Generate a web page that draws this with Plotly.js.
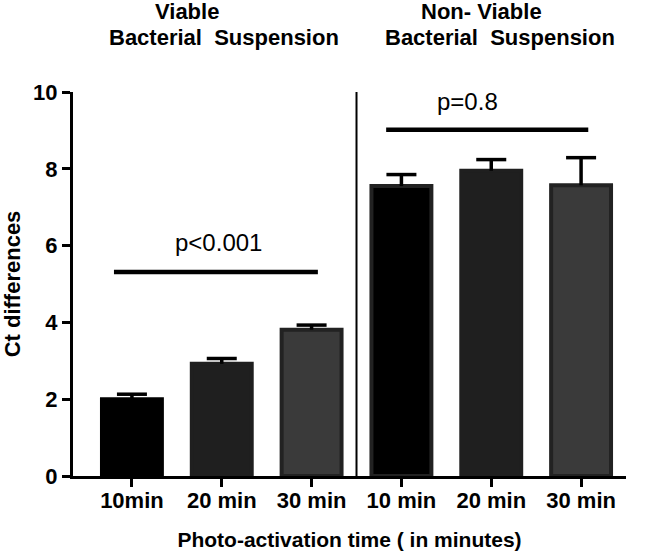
<!DOCTYPE html>
<html>
<head>
<meta charset="utf-8">
<script src="https://cdn.plot.ly/plotly-3.0.1.min.js"></script>
<style>html,body{margin:0;padding:0;background:#fff;}#chart{width:646px;height:557px;}</style>
</head>
<body>
<div id="chart"></div>
<script>
// Data
const positions = [0, 1, 2, 3, 4, 5];
const tickLabels = ["10min", "20 min", "30 min", "10 min", "20 min", "30 min"];
const meanValues = [2.0, 2.92, 3.81, 7.55, 7.95, 7.57];
const errValues = [0.13, 0.14, 0.12, 0.3, 0.29, 0.72];
const fillColors = ["#000000", "#1f1f1f", "#3a3a3a", "#000000", "#1f1f1f", "#3a3a3a"];
const edgeColors = ["#000000", "#1f1f1f", "#222222", "#222222", "#1f1f1f", "#222222"];
const groupTitles = ["Viable", "Bacterial  Suspension", "Non- Viable", "Bacterial  Suspension"];
const groupTitleX = [0.61, 1.02, 3.89, 4.1];
const groupTitleRow = [1, 2, 1, 2];
const pLabels = ["p<0.001", "p=0.8"];
const pLabelX = [0.96, 3.74];
const pLabelY = [6.07, 9.75];
const pLineX0 = [-0.2, 2.83];
const pLineX1 = [2.07, 5.08];
const pLineY = [5.31, 9.02];
const dividerX = 2.5;
const capHalf = 0.167; // half-width of error caps in category units

const FONT = "Liberation Sans, Arial, sans-serif";

const barTrace = {
  type: "bar",
  x: positions,
  y: meanValues,
  width: 0.667,
  marker: { color: fillColors, line: { color: edgeColors, width: 4 } },
  hoverinfo: "skip"
};

// Upper-only error bars (stem + cap) built from the data arrays
const ex = [], ey = [];
for (let i = 0; i < positions.length; i++) {
  const top = meanValues[i] + errValues[i];
  ex.push(positions[i], positions[i], null, positions[i] - capHalf, positions[i] + capHalf, null);
  ey.push(meanValues[i], top, null, top, top, null);
}
const errTrace = {
  type: "scatter", mode: "lines", x: ex, y: ey, connectgaps: false,
  line: { color: "#000", width: 3.5 }, hoverinfo: "skip"
};

const shapes = [];
for (let i = 0; i < pLineY.length; i++) {
  shapes.push({ type: "line", xref: "x", yref: "y", x0: pLineX0[i], x1: pLineX1[i], y0: pLineY[i], y1: pLineY[i],
    line: { color: "#000", width: 4.5 } });
}
shapes.push({ type: "line", xref: "x", yref: "y", x0: dividerX, x1: dividerX, y0: 0, y1: 10, line: { color: "#000", width: 2 } });

const annotations = [];
for (let i = 0; i < groupTitles.length; i++) {
  annotations.push({ text: "<b>" + groupTitles[i] + "</b>", xref: "x", yref: "paper", x: groupTitleX[i],
    y: groupTitleRow[i] === 1 ? 1.21 : 1.142, xanchor: "center", yanchor: "middle", showarrow: false,
    font: { family: FONT, size: 22, color: "#000" } });
}
for (let i = 0; i < pLabels.length; i++) {
  annotations.push({ text: pLabels[i], xref: "x", yref: "y", x: pLabelX[i], y: pLabelY[i],
    xanchor: "center", yanchor: "middle", showarrow: false, font: { family: FONT, size: 24, color: "#000" } });
}

const layout = {
  width: 646, height: 557,
  margin: { l: 73, r: 20, t: 92, b: 81 },
  paper_bgcolor: "#fff", plot_bgcolor: "#fff",
  showlegend: false,
  font: { family: FONT, color: "#000" },
  xaxis: {
    range: [-0.656, 5.5], tickvals: positions, ticktext: tickLabels.map(t => "<b>" + t + "</b>"),
    showgrid: false, zeroline: false, showline: true, linecolor: "#000", linewidth: 3,
    ticks: "outside", ticklen: 8, tickwidth: 3, tickcolor: "#000", ticklabelstandoff: -5,
    tickfont: { family: FONT, size: 22, color: "#000" },
    title: { text: "<b>Photo-activation time ( in minutes)</b>", font: { family: FONT, size: 21, color: "#000" }, standoff: 20 }
  },
  yaxis: {
    range: [0, 10], tickvals: [0, 2, 4, 6, 8, 10], ticktext: ["<b>0</b>", "<b>2</b>", "<b>4</b>", "<b>6</b>", "<b>8</b>", "<b>10</b>"],
    showgrid: false, zeroline: false, showline: true, linecolor: "#000", linewidth: 3,
    ticks: "outside", ticklen: 8, tickwidth: 3, tickcolor: "#000",
    tickfont: { family: FONT, size: 22, color: "#000" },
    title: { text: "<b>Ct differences</b>", font: { family: FONT, size: 22, color: "#000" }, standoff: 10 }
  },
  shapes: shapes,
  annotations: annotations
};

Plotly.newPlot("chart", [barTrace, errTrace], layout, { staticPlot: true, displayModeBar: false });
</script>
</body>
</html>
